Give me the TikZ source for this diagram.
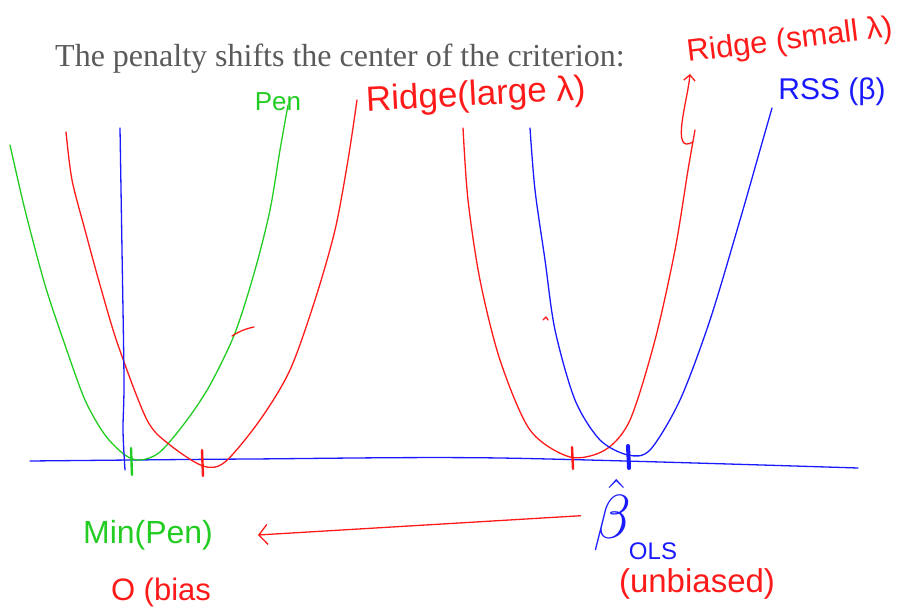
\documentclass[tikz,border=0pt]{standalone}
\usepackage{fontspec}
\setmainfont{Liberation Serif}
\newfontfamily\handfont{Liberation Sans}
\usetikzlibrary{arrows.meta}
\definecolor{penGreen}{HTML}{22CC22}
\definecolor{ridgeRed}{HTML}{FF1A1A}
\definecolor{rssBlue}{HTML}{1A1AFF}
\definecolor{titleGray}{HTML}{5A5A5A}

\begin{document}
\begin{tikzpicture}[x=1pt, y=-1pt,
  curve/.style={line width=1.3pt, line cap=round, line join=round},
  penCurve/.style={curve, draw=penGreen},
  ridgeCurve/.style={curve, draw=ridgeRed},
  rssCurve/.style={curve, draw=rssBlue},
  hand/.style={font=\handfont\fontsize{22}{24}\selectfont, inner sep=0pt},
  tickMark/.style={line width=2.4pt, line cap=round},
  flow/.style={-{Straight Barb[length=3mm,width=7mm]}, line width=1.3pt}
]
  \useasboundingbox (0,0) rectangle (904,609);

  \node[anchor=base west, inner sep=0pt, text=titleGray,
        font=\fontsize{32}{34}\selectfont] (title) at (55,67)
    {The penalty shifts the center of the criterion:};

  % axis
  \draw[rssCurve] plot[smooth] coordinates {(30,461) (250,459) (500,458) (858,468)};

  % left group
  \draw[penCurve] plot[smooth] coordinates {(10,145) (25,210) (45,285) (65,345)
    (85,400) (105,435) (125,455) (140,460) (160,452) (187,420) (210,385)
    (235,333) (255,270) (270,210) (280,150) (288,105)};
  \draw[ridgeCurve] plot[smooth] coordinates {(66,132) (72,180) (85,230)
    (100,285) (118,345) (147,420) (170,445) (203,466) (225,462) (260,420)
    (290,370) (315,300) (335,230) (348,160) (357,100)};
  \draw[rssCurve] plot[smooth] coordinates {(120,128) (122,250) (124,380) (123,430) (125,470)};

  \draw[tickMark, penGreen] (131,448) -- (132,475);
  \draw[tickMark, ridgeRed] (202,450) -- (203,476);
  \draw[ridgeCurve] (232,336) to[bend left=10] (254,327);

  % right group
  \draw[ridgeCurve] plot[smooth] coordinates {(463,128) (468,200) (480,280)
    (500,360) (530,430) (570,457) (605,450) (630,420) (655,340) (675,250)
    (688,170) (695,130)};
  \draw[rssCurve] plot[smooth] coordinates {(530,128) (535,190) (545,260)
    (555,330) (575,400) (600,440) (628,455) (650,450) (680,400) (710,320)
    (740,220) (760,150) (772,108)};

  \draw[tickMark, ridgeRed] (572,447) -- (573,469);
  \draw[rssBlue, line width=4pt, line cap=round] (628,446) -- (629,468);
  \draw[ridgeCurve] (543,320) -- (546,317) -- (548,320);

  % labels
  \node[hand, text=penGreen, font=\handfont\fontsize{26}{28}\selectfont] (pen) at (278,102) {Pen};
  \node[hand, text=ridgeRed, font=\handfont\fontsize{35}{36}\selectfont, rotate=3, anchor=west] (ridgeLarge) at (366,102) {Ridge(large λ)};
  \node[hand, text=ridgeRed, font=\handfont\fontsize{31}{32}\selectfont, rotate=7, anchor=base west] (ridgeSmall) at (688,62) {Ridge (small λ)};
  \node[hand, text=rssBlue, font=\handfont\fontsize{30}{32}\selectfont] (rss) at (832,92) {RSS (β)};

  \coordinate (rsFoot) at (693,142);
  \draw[ridgeCurve, -{Straight Barb[length=2mm]}] (rsFoot) to[out=210, in=-95] (690,74);

  \node[hand, text=penGreen, font=\handfont\fontsize{32}{34}\selectfont] (minPen) at (148,535) {Min(Pen)};
  \node[hand, text=rssBlue] (betaHat) at (612,515) {\scalebox{3}{$\hat{\beta}$}};
  \node[hand, text=rssBlue, font=\handfont\fontsize{24}{26}\selectfont] (ols) at (653,551) {OLS};
  \node[hand, text=ridgeRed, font=\handfont\fontsize{33}{35}\selectfont] (unbiased) at (697,584) {(unbiased)};
  \node[hand, text=ridgeRed, font=\handfont\fontsize{31}{33}\selectfont] (zeroBias) at (161,592) {O (bias};

  \draw[flow, ridgeRed, shorten <=12pt] (betaHat.west) -- (minPen.east -| 258,0);
\end{tikzpicture}
\end{document}
